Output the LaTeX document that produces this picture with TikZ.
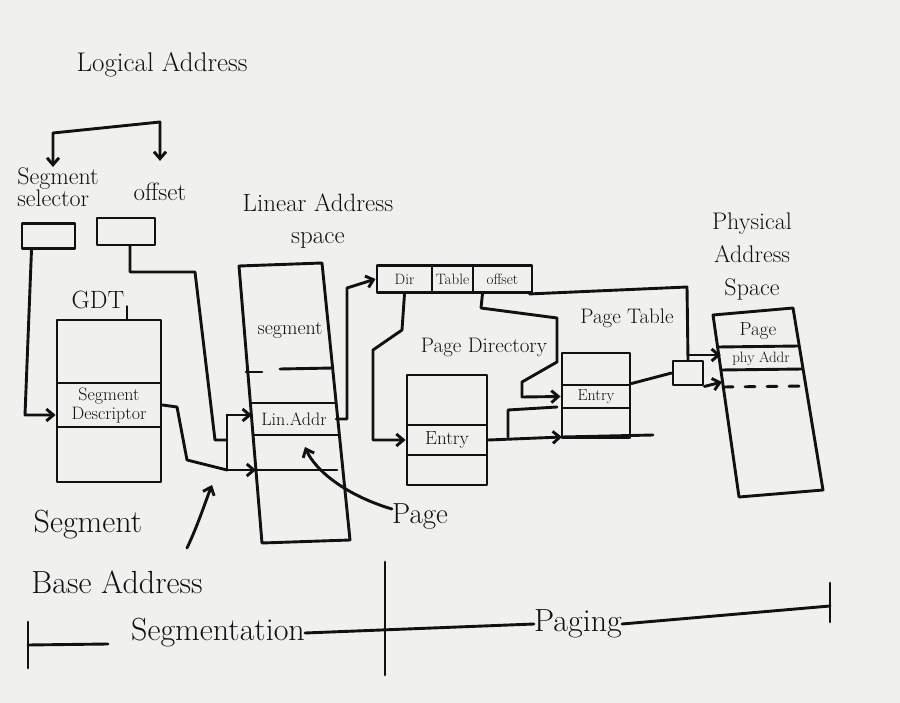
\documentclass[tikz,border=0pt]{standalone}
\usetikzlibrary{arrows.meta}
\definecolor{paper}{RGB}{240,240,239}
\definecolor{ink}{RGB}{17,17,17}
\newcommand{\handsz}[2]{\fontsize{#1}{#2}\selectfont}
\tikzset{
  pen/.style={draw=ink, line width=2.9pt, line join=round, line cap=round},
  arr/.style={pen, -{Straight Barb[length=7pt,width=12pt]}},
  lbl/.style={text=ink, inner sep=0pt},
  rowtxt/.style={text=ink, inner sep=0pt, align=center},
  field/.style={pen, text=ink, inner sep=0pt, minimum height=27pt, font=\handsz{15}{15}},
}
\begin{document}
\begin{tikzpicture}[x=1pt,y=-1pt]
  \fill[paper] (0,0) rectangle (900,703);
  \useasboundingbox (0,0) rectangle (900,703);

  \node[lbl, font=\handsz{27}{27}] (logical) at (162,65) {Logical Address};
  \node[lbl, font=\handsz{24}{20}, align=left] (selname) at (58,187) {Segment\\selector};
  \node[lbl, font=\handsz{25}{25}] (offname) at (160,192) {offset};
  \node[pen, minimum width=53pt, minimum height=25pt, inner sep=0pt] (selbox) at (48.5,236) {};
  \node[pen, minimum width=58pt, minimum height=27pt, inner sep=0pt] (offbox) at (126,231.5) {};
  \draw[pen, {Straight Barb[length=7pt,width=12pt]}-{Straight Barb[length=7pt,width=12pt]}]
    ([xshift=-5pt]selname.north) -- (53,133) -- (160,122) -- ([yshift=22pt]offname.north);

  \node[lbl, font=\handsz{25}{25}] (gdtname) at (98,300) {GDT};
  \node[pen, minimum width=104pt, minimum height=162pt, inner sep=0pt] (gdt) at (109,401) {};
  \node[pen, text=ink, minimum width=104pt, minimum height=44pt, inner sep=0pt, align=center,
    font=\handsz{18}{19}] (desc) at (109,405) {Segment\\Descriptor};
  \draw[pen] ([xshift=18pt]gdt.north) -- ++(0,-12);

  \node[lbl, font=\handsz{25}{32}, align=center] (linname) at (318,221) {Linear Address\\space};
  \draw[pen] (239,266) -- (322,263) -- (350,540) -- (262,543) -- cycle;
  \draw[pen] (246,372) -- (262,372);
  \draw[pen] (280,369) -- (333,368);
  \node[rowtxt, font=\handsz{20}{20}] (segtxt) at (290,330) {segment};
  \node[rowtxt, minimum width=84pt, minimum height=32pt, font=\handsz{18}{18}] (linaddr) at (294,419) {Lin.Addr};
  \foreach \y/\l/\r in {403/251/336, 435/253/339, 470/256/337}
    \draw[pen] (\l,\y) -- (\r,\y);

  \coordinate (jtop) at (227,415);
  \coordinate (jmid) at (227,440);
  \coordinate (jbot) at (227,470);
  \coordinate (lbase) at (256,470);
  \draw[pen] (jtop) -- (jbot);
  \draw[arr] (jtop) -- (jtop -| linaddr.west);
  \draw[arr] (jbot) -- (lbase);
  \draw[pen] ([xshift=4pt]offbox.south) -- (130,272) -- (195,272) -- (215,440) -- (jmid);
  \draw[pen] (desc.east) -- (177,407) -- (187,460) -- (jbot);
  \draw[arr] ([xshift=-17pt]selbox.south) -- (25,415) -- ([yshift=-10pt]desc.west);

  \node[lbl, font=\handsz{32}{32}] (segname) at (88,525) {Segment};
  \node[lbl, font=\handsz{32}{32}] (basename) at (117,582) {Base Address};
  \coordinate (basetail) at (187,548);
  \draw[arr] (basetail) .. controls (198,525) and (206,500) .. (212,485);

  \node[lbl, font=\handsz{29}{29}] (pagename) at (420,517) {Page};
  \draw[arr] ([yshift=8pt]pagename.west) .. controls (345,495) and (315,470) .. (305,447);

  \node[field, minimum width=55pt] (dir) at (404.5,279) {Dir};
  \node[field, minimum width=41pt] (tbl) at (452.5,279) {Table};
  \node[field, minimum width=59pt] (offs) at (502.5,279) {offset};
  \draw[arr] (linaddr.east) -- (347,419) -- (347,288) -- (dir.west);

  \node[lbl, font=\handsz{21}{21}] (pdname) at (484,347) {Page Directory};
  \node[pen, minimum width=80pt, minimum height=110pt, inner sep=0pt] (pd) at (447,430) {};
  \node[pen, text=ink, minimum width=80pt, minimum height=30pt, inner sep=0pt,
    font=\handsz{19}{19}] (pdentry) at (447,440) {Entry};
  \draw[arr] (dir.south) -- (402,330) -- (373,350) -- (373,440) -- (pdentry.west);

  \node[lbl, font=\handsz{21}{21}] (ptname) at (627,318) {Page Table};
  \node[pen, minimum width=68pt, minimum height=85pt, inner sep=0pt] (ptab) at (596,395.5) {};
  \node[pen, text=ink, minimum width=68pt, minimum height=23pt, inner sep=0pt,
    font=\handsz{16}{16}] (ptentry) at (596,396.5) {Entry};
  \draw[arr] ([xshift=8pt]tbl.south east) -- (481,308) -- (557,318) -- (557,362)
    -- (522,382) -- (522,397) -- (ptentry.west);
  \coordinate (ptbase) at (562,437);
  \draw[arr] (pdentry.east) -- (ptbase);
  \draw[pen] (ptbase) -- (653,435);
  \draw[pen] (508,437) -- (508,410) -- (557,407);

  \node[lbl, font=\handsz{24}{33}, align=center] (physname) at (752,257) {Physical\\Address\\Space};
  \draw[pen] (713,315) -- (793,308) -- (823,490) -- (739,497) -- cycle;
  \draw[pen] (718,347) -- (799,346);
  \draw[pen] (721,370) -- (803,369);
  \draw[pen, dash pattern=on 10pt off 12pt] (723,387) -- (806,386);
  \node[rowtxt, font=\handsz{19}{19}] (phypage) at (758,331) {Page};
  \node[rowtxt, minimum width=80pt, minimum height=23pt, font=\handsz{15}{15}] (phyaddr) at (761,358.5) {phy Addr};

  \node[pen, minimum width=30pt, minimum height=24pt, inner sep=0pt] (adder) at (688,373) {};
  \coordinate (offturn) at (689,355);
  \draw[pen] ([xshift=-4pt]offs.south east) -- (687,287) -- (adder.north);
  \draw[arr] (offturn) -- (offturn -| phyaddr.west);
  \draw[pen] (ptentry.north east) -- (adder.west);
  \draw[arr] (adder.south east) -- (722,382);

  \node[lbl, font=\handsz{32}{32}] (segtn) at (218,633) {Segmentation};
  \node[lbl, font=\handsz{32}{32}] (pagtn) at (578,624) {Paging};
  \coordinate (lend) at (28,645);
  \coordinate (lendb) at (108,644);
  \coordinate (rend) at (830,606);
  \draw[pen] (lend) -- (lendb);
  \draw[pen] (segtn.east) -- (pagtn.west);
  \draw[pen] (pagtn.east) -- (rend);
  \draw[pen] (28,622) -- (28,668);
  \draw[pen] (830,583) -- (830,622);
  \draw[pen] (385,562) -- (385,675);
\end{tikzpicture}
\end{document}
